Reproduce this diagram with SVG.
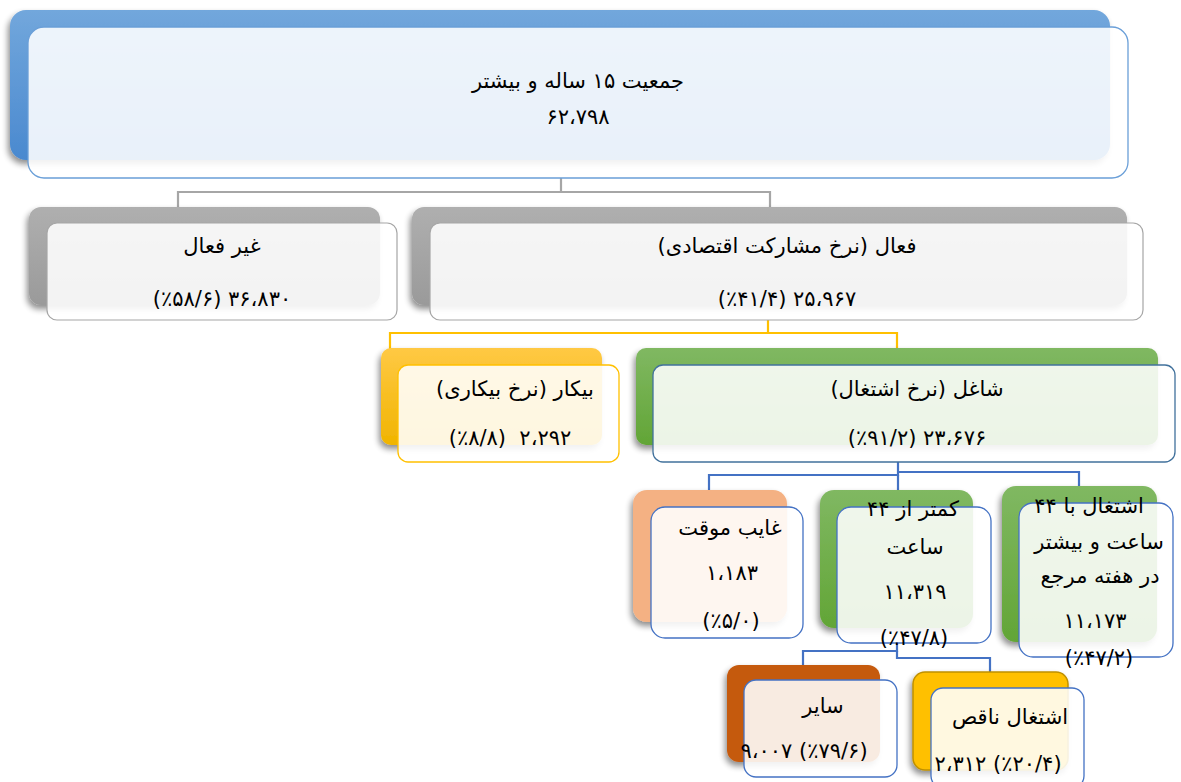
<svg xmlns="http://www.w3.org/2000/svg" width="1181" height="782" viewBox="0 0 1181 782">
<style>
.t{font-family:"DejaVu Sans","Liberation Serif",sans-serif;font-size:21px;fill:#000;text-anchor:middle}
.r{direction:rtl;unicode-bidi:embed}
.l{direction:ltr}
.front{fill:#fff;fill-opacity:0.88}
.back{filter:url(#sh)}
.con{fill:none;stroke-width:2.2}
</style>
<defs>
<filter id="sh" x="-10%" y="-10%" width="120%" height="130%">
<feGaussianBlur in="SourceAlpha" stdDeviation="3"/>
<feOffset dx="-2" dy="4" result="b"/>
<feComponentTransfer><feFuncA type="linear" slope="0.45"/></feComponentTransfer>
<feMerge><feMergeNode/><feMergeNode in="SourceGraphic"/></feMerge>
</filter>
<linearGradient id="gBlue" x1="0" y1="0" x2="0" y2="1"><stop offset="0" stop-color="#72a7dc"/><stop offset="1" stop-color="#4a89cf"/></linearGradient>
<linearGradient id="gGray" x1="0" y1="0" x2="0" y2="1"><stop offset="0" stop-color="#afafaf"/><stop offset="1" stop-color="#9a9a9a"/></linearGradient>
<linearGradient id="gYel" x1="0" y1="0" x2="0" y2="1"><stop offset="0" stop-color="#ffc944"/><stop offset="1" stop-color="#f0b400"/></linearGradient>
<linearGradient id="gGreen" x1="0" y1="0" x2="0" y2="1"><stop offset="0" stop-color="#80b862"/><stop offset="1" stop-color="#62a536"/></linearGradient>
</defs>

<g id="connectors">
<polyline class="con" stroke="#a6a6a6" points="561,178 561,192 178,192 178,208"/>
<polyline class="con" stroke="#a6a6a6" points="561,192 770,192 770,208"/>
<polyline class="con" stroke="#ffc000" points="768,320 768,333 390,333 390,349"/>
<polyline class="con" stroke="#ffc000" points="768,333 897,333 897,349"/>
<polyline class="con" stroke="#4472c4" points="898,462 898,475 709,475 709,491"/>
<polyline class="con" stroke="#4472c4" points="898,475 898,491"/>
<polyline class="con" stroke="#4472c4" points="898,472 1079,472 1079,487"/>
<polyline class="con" stroke="#4472c4" points="897,643 897,651 803,651 803,666"/>
<polyline class="con" stroke="#4472c4" points="897,651 897,658 990,658 990,673"/>
</g>

<g id="n-total">
<rect class="back" x="10" y="10" width="1100" height="150" rx="16" fill="url(#gBlue)"/>
<rect class="front" x="28" y="27" width="1100" height="151" rx="16" stroke="#6a9fd8" stroke-width="1.3"/>
<text class="t r" x="578" y="88">جمعیت ۱۵ ساله و بیشتر</text>
<text class="t l" x="578" y="124">۶۲،۷۹۸</text>
</g>

<g id="n-inactive">
<rect class="back" x="29" y="207" width="351" height="98" rx="12" fill="url(#gGray)"/>
<rect class="front" x="47" y="223" width="350" height="97" rx="10" stroke="#a6a6a6" stroke-width="1.2"/>
<text class="t r" x="222" y="253">غیر فعال</text>
<text class="t l" x="222" y="306">(٪۵۸/۶) ۳۶،۸۳۰</text>
</g>

<g id="n-active">
<rect class="back" x="412" y="207" width="715" height="98" rx="12" fill="url(#gGray)"/>
<rect class="front" x="430" y="223" width="713" height="97" rx="10" stroke="#a6a6a6" stroke-width="1.2"/>
<text class="t r" x="787" y="253">فعال (نرخ مشارکت اقتصادی)</text>
<text class="t l" x="787" y="306">(٪۴۱/۴) ۲۵،۹۶۷</text>
</g>

<g id="n-unemployed">
<rect class="back" x="381" y="348" width="221" height="97" rx="10" fill="url(#gYel)"/>
<rect class="front" x="398" y="365" width="221" height="97" rx="10" stroke="#ffc000" stroke-width="1.3"/>
<text class="t r" x="515" y="396">بیکار (نرخ بیکاری)</text>
<text class="t l" x="510" y="445" xml:space="preserve">(٪۸/۸)  ۲،۲۹۲</text>
</g>

<g id="n-employed">
<rect class="back" x="636" y="348" width="522" height="97" rx="10" fill="url(#gGreen)"/>
<rect class="front" x="653" y="365" width="522" height="97" rx="10" stroke="#41719c" stroke-width="1.3"/>
<text class="t r" x="917" y="396">شاغل (نرخ اشتغال)</text>
<text class="t l" x="917" y="445">(٪۹۱/۲) ۲۳،۶۷۶</text>
</g>

<g id="n-absent">
<rect class="back" x="633" y="490" width="154" height="132" rx="14" fill="#f4b183"/>
<rect class="front" x="651" y="507" width="152" height="131" rx="14" stroke="#4472c4" stroke-width="1.3"/>
<text class="t r" x="730" y="535">غایب موقت</text>
<text class="t l" x="732" y="580">۱،۱۸۳</text>
<text class="t l" x="731" y="628">(٪۵/۰)</text>
</g>

<g id="n-less44">
<rect class="back" x="820" y="490" width="153" height="138" rx="14" fill="url(#gGreen)"/>
<rect class="front" x="837" y="507" width="154" height="136" rx="14" stroke="#4472c4" stroke-width="1.3"/>
<text class="t r" x="913" y="516">کمتر از ۴۴</text>
<text class="t r" x="915" y="554">ساعت</text>
<text class="t l" x="915" y="599">۱۱،۳۱۹</text>
<text class="t l" x="914" y="645">(٪۴۷/۸)</text>
</g>

<g id="n-more44">
<rect class="back" x="1002" y="486" width="155" height="156" rx="14" fill="url(#gGreen)"/>
<rect class="front" x="1019" y="503" width="154" height="154" rx="14" stroke="#4472c4" stroke-width="1.3"/>
<text class="t r" x="1089" y="513">اشتغال با ۴۴</text>
<text class="t r" x="1099" y="549">ساعت و بیشتر</text>
<text class="t r" x="1100" y="583">در هفته مرجع</text>
<text class="t l" x="1095" y="628">۱۱،۱۷۳</text>
<text class="t l" x="1099" y="665">(٪۴۷/۲)</text>
</g>

<g id="n-other">
<rect class="back" x="727" y="665" width="153" height="97" rx="12" fill="#c55a11"/>
<rect class="front" x="744" y="680" width="153" height="97" rx="12" stroke="#4472c4" stroke-width="1.3"/>
<text class="t r" x="823" y="713">سایر</text>
<text class="t l" x="804" y="758">۹،۰۰۷ (٪۷۹/۶)</text>
</g>

<g id="n-under">
<rect class="back" x="913" y="672" width="155" height="98" rx="12" fill="#ffc000" stroke="#bf9000" stroke-width="1.5"/>
<rect class="front" x="931" y="688" width="153" height="100" rx="12" stroke="#4472c4" stroke-width="1.3"/>
<text class="t r" x="1010" y="724">اشتغال ناقص</text>
<text class="t l" x="998" y="771">۲،۳۱۲ (٪۲۰/۴)</text>
</g>
</svg>
